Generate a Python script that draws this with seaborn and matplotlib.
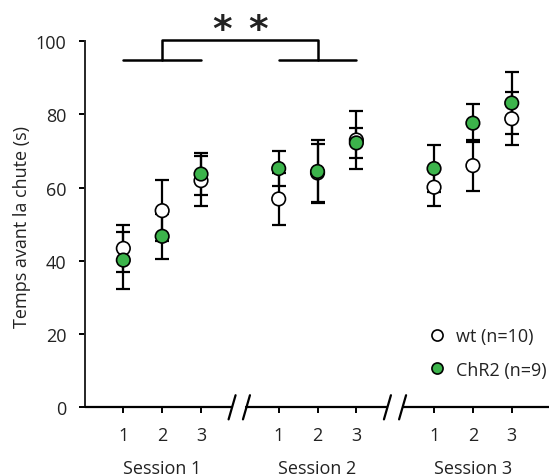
import numpy as np
import pandas as pd
import matplotlib
matplotlib.use('Agg')
import matplotlib.pyplot as plt
from matplotlib.lines import Line2D
import seaborn as sns

# data (mean +/- sem, seconds)
trial_pos = [1, 2, 3, 5, 6, 7, 9, 10, 11]
trial_labels = ['1', '2', '3', '1', '2', '3', '1', '2', '3']
session_pos = [2, 6, 10]
session_labels = ['Session 1', 'Session 2', 'Session 3']
wt_mean = [43.4, 53.7, 61.9, 56.9, 64.0, 73.0, 60.1, 66.0, 78.8]
wt_sem = [6.4, 8.4, 6.8, 7.1, 8.0, 7.8, 5.2, 7.0, 7.2]
chr2_mean = [40.2, 46.7, 63.7, 65.2, 64.4, 72.2, 65.2, 77.6, 83.1]
chr2_sem = [7.8, 6.2, 5.7, 4.9, 8.6, 4.2, 6.4, 5.2, 8.5]
groups = ['wt (n=10)', 'ChR2 (n=9)']
green = '#3cb44b'

df = pd.DataFrame({
    'x': trial_pos * 2,
    'temps': wt_mean + chr2_mean,
    'err': wt_sem + chr2_sem,
    'group': [groups[0]] * 9 + [groups[1]] * 9,
})

sns.set_style('ticks')
plt.rcParams['font.family'] = ['Open Sans', 'DejaVu Sans']
txt = '#222222'
fs = 13

fig = plt.figure(figsize=(5.49, 4.77), dpi=100)
ax = fig.add_axes([84.5 / 549, 68.7 / 477, 1 - 84.5 / 549, 1 - 68.7 / 477])

for g in groups:
    d = df[df.group == g]
    ax.errorbar(d['x'], d['temps'], yerr=d['err'], fmt='none', ecolor='black',
                elinewidth=1.6, capsize=4.7, capthick=1.6, zorder=2)

sns.scatterplot(data=df, x='x', y='temps', hue='group',
                palette={groups[0]: 'white', groups[1]: green},
                s=95, edgecolor='black', linewidth=1.2, zorder=3,
                legend=False, ax=ax)

ax.set_xlim(0, 11.96)
ax.set_ylim(0, 111.5)
ax.set_xlabel('')
ax.set_ylabel('')
ax.set_xticks(trial_pos)
ax.set_xticklabels(trial_labels)
ax.set_yticks([0, 20, 40, 60, 80, 100])
ax.tick_params(axis='both', labelsize=fs, colors='black', labelcolor=txt,
               width=1.4, length=4)
ax.tick_params(axis='x', pad=9.5)
ax.tick_params(axis='y', pad=9)

sns.despine(ax=ax, top=True, right=True, bottom=True)
ax.spines['left'].set_bounds(0, 100)
ax.spines['left'].set_linewidth(1.4)

# broken x axis
segs = [(0, 3.80), (4.17, 7.80), (8.19, 11.96)]
for a, b in segs:
    ax.plot([a, b], [0, 0], color='black', lw=1.6, clip_on=False, zorder=4)
for c in [3.80, 4.17, 7.80, 8.19]:
    ax.plot([c - 0.09, c + 0.09], [-3.3, 3.3], color='black', lw=1.6,
            clip_on=False, zorder=4)

for p, lab in zip(session_pos, session_labels):
    ax.annotate(lab, xy=(p, 0), xycoords=('data', 'axes fraction'),
                xytext=(0, -43.5), textcoords='offset points',
                ha='center', va='center', fontsize=fs, color=txt)

fig.text(21.7 / 549, 1 - 226.7 / 477, 'Temps avant la chute (s)',
         rotation=90, ha='center', va='center', fontsize=fs, color=txt)

# significance bracket
ax.plot([1, 3], [94.8, 94.8], color='black', lw=1.8)
ax.plot([5, 7], [94.8, 94.8], color='black', lw=1.8)
ax.plot([2, 2, 6, 6], [94.8, 100.4, 100.4, 94.8], color='black', lw=1.8)
ax.text(3.53, 103.0, '*', ha='center', va='center', fontsize=27,
        fontweight='bold', family='DejaVu Sans', color=txt)
ax.text(4.48, 103.0, '*', ha='center', va='center', fontsize=27,
        fontweight='bold', family='DejaVu Sans', color=txt)

handles = [
    Line2D([], [], ls='none', marker='o', ms=8, mfc='white', mec='black', mew=1.2),
    Line2D([], [], ls='none', marker='o', ms=8, mfc=green, mec='black', mew=1.2),
]
ax.legend(handles, groups, loc='center left', frameon=False, fontsize=fs,
          bbox_to_anchor=(419 / 549, 1 - 354 / 477), bbox_transform=fig.transFigure,
          handlelength=1.0, handletextpad=0.55, labelspacing=0.85, borderpad=0,
          labelcolor=txt)

fig.savefig('out.png', dpi=100)
